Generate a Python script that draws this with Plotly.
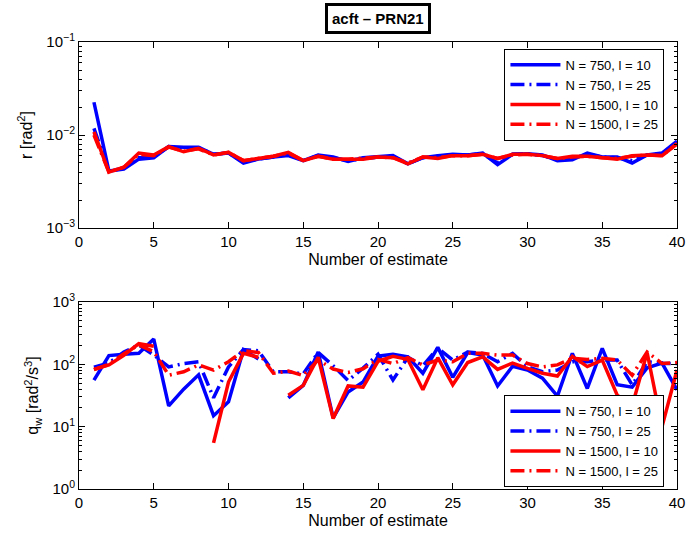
import plotly.graph_objects as go

x = list(range(1, 41))

# ---- top panel: r [rad^2] ----
r_750_10 = [0.0225, 0.0041, 0.0043, 0.0055, 0.0057, 0.0075, 0.0074, 0.0074, 0.0062, 0.0064,
            0.0050, 0.0055, 0.0058, 0.0060, 0.0053, 0.0061, 0.0058, 0.0052, 0.0057, 0.0058,
            0.0060, 0.0049, 0.0057, 0.0060, 0.0062, 0.0061, 0.0064, 0.0048, 0.0062, 0.0063,
            0.0061, 0.0053, 0.0054, 0.0064, 0.0058, 0.0058, 0.0050, 0.0061, 0.0064, 0.0086]
r_750_25 = [0.0118, 0.0041, 0.0044, 0.0057, 0.0058, 0.0075, 0.0072, 0.0073, 0.0062, 0.0064,
            0.0051, 0.0055, 0.0058, 0.0062, 0.0053, 0.0060, 0.0057, 0.0053, 0.0056, 0.0058,
            0.0059, 0.0049, 0.0057, 0.0059, 0.0061, 0.0061, 0.0063, 0.0050, 0.0062, 0.0063,
            0.0060, 0.0054, 0.0056, 0.0062, 0.0058, 0.0057, 0.0053, 0.0061, 0.0063, 0.0084]
r_1500_10 = [0.0108, 0.0040, 0.0045, 0.0064, 0.0061, 0.0075, 0.0066, 0.0072, 0.0061, 0.0065,
             0.0053, 0.0056, 0.0059, 0.0065, 0.0053, 0.0059, 0.0055, 0.0055, 0.0055, 0.0058,
             0.0057, 0.0049, 0.0058, 0.0056, 0.0060, 0.0060, 0.0062, 0.0056, 0.0062, 0.0062,
             0.0060, 0.0056, 0.0059, 0.0059, 0.0057, 0.0055, 0.0060, 0.0061, 0.0060, 0.0080]
r_1500_25 = [0.0100, 0.0040, 0.0045, 0.0062, 0.0060, 0.0074, 0.0067, 0.0071, 0.0061, 0.0065,
             0.0053, 0.0056, 0.0059, 0.0064, 0.0053, 0.0059, 0.0055, 0.0055, 0.0056, 0.0058,
             0.0057, 0.0050, 0.0058, 0.0057, 0.0060, 0.0060, 0.0062, 0.0056, 0.0061, 0.0062,
             0.0060, 0.0056, 0.0058, 0.0059, 0.0057, 0.0056, 0.0059, 0.0061, 0.0060, 0.0081]

# ---- bottom panel: q_w [rad^2/s^3] ----
q_750_10 = [56, 138, 145, 150, 255, 21.5, 40, 68, 15, 25,
            172, 122, None, 29, 46, 158, 13.8, 36, 52, 135,
            145, 132, 72, 187, 62, 155, 141, 45, 93, 81,
            60, 31, 150, 41, 180, 47, 43, 88, 105, 39]
q_750_25 = [90, 105, 158, 205, 141, 91, 103, 110, 29, 91,
            172, 165, 76, 76, 70, 155, 95, 55, 87, 145,
            56, 130, 95, 182, 117, 158, 150, 110, 150, 91,
            76, 81, 110, 110, 117, 117, 47, 110, 103, 103]
q_1500_10 = [83, 98, 140, 215, 195, None, None, None, 5.5, 52,
             150, 130, None, 32, 46, 130, 13.5, 45, 43, 112,
             135, 120, 39, 128, 47, 107, 132, 83, 105, 86,
             72, 65, 134, 92, 117, 32, 21.5, 155, 10, 81]
q_1500_25 = [82, 100, 148, 205, 160, 67, 76, 98, 81, 110,
             165, 155, 72, 78, 66, 118, 84, 74, 85, 120,
             103, 128, 98, 117, 110, 150, 150, 141, 141, 103,
             91, 98, 125, 120, 125, 117, 67, 158, 103, 107]

names = ["N = 750, l = 10", "N = 750, l = 25", "N = 1500, l = 10", "N = 1500, l = 25"]
colors = ["#0000FF", "#0000FF", "#FF0000", "#FF0000"]
DASHDOT = "14px,5px,2px,5px"
dashes = ["solid", DASHDOT, "solid", DASHDOT]

FONT = "Liberation Sans, Arial, Helvetica, sans-serif"
fig = go.Figure()

for ys, nm, c, d in zip([r_750_10, r_750_25, r_1500_10, r_1500_25], names, colors, dashes):
    fig.add_trace(go.Scatter(x=x, y=ys, mode="lines", name=nm,
                             line=dict(color=c, width=3.5, dash=d),
                             xaxis="x", yaxis="y", legend="legend"))
for ys, nm, c, d in zip([q_750_10, q_750_25, q_1500_10, q_1500_25], names, colors, dashes):
    fig.add_trace(go.Scatter(x=x, y=ys, mode="lines", name=nm,
                             line=dict(color=c, width=3.5, dash=d),
                             xaxis="x2", yaxis="y2", legend="legend2"))


def minor_vals(lo, hi):
    out = []
    for e in range(lo, hi):
        for k in range(2, 10):
            out.append(k * 10 ** e)
    return out


common_x = dict(range=[0, 40], tickmode="array", tickvals=[0, 5, 10, 15, 20, 25, 30, 35, 40],
                ticks="inside", ticklen=6, tickcolor="black", showline=True, linecolor="black",
                linewidth=1, mirror="ticks", showgrid=False, zeroline=False,
                tickfont=dict(family=FONT, size=15, color="black"),
                title=dict(text="Number of estimate", font=dict(family=FONT, size=16, color="black"),
                           standoff=4))
common_y = dict(type="log", ticks="inside", ticklen=6, tickcolor="black", showline=True,
                linecolor="black", linewidth=1, mirror="ticks", showgrid=False, zeroline=False,
                tickfont=dict(family=FONT, size=15, color="black"))

leg_common = dict(bgcolor="white", bordercolor="black", borderwidth=1,
                  font=dict(family=FONT, size=13, color="black"), itemwidth=50,
                  tracegroupgap=0)

fig.update_layout(
    width=694, height=536,
    paper_bgcolor="white", plot_bgcolor="white",
    margin=dict(l=79, r=9, t=42, b=47),
    font=dict(family=FONT, color="black"),
    xaxis=dict(domain=[0, 1], anchor="y", **common_x),
    yaxis=dict(domain=[0.5839, 1], anchor="x", range=[-3, -1],
               tickmode="array", tickvals=[0.001, 0.01, 0.1],
               ticktext=["10<sup>−3</sup>", "10<sup>−2</sup>", "10<sup>−1</sup>"],
               minor=dict(ticks="inside", ticklen=3, tickcolor="black", tickmode="array",
                          tickvals=minor_vals(-3, -1)),
               title=dict(text="r [rad<sup>2</sup>]", font=dict(family=FONT, size=16, color="black"),
                          standoff=9),
               **common_y),
    xaxis2=dict(domain=[0, 1], anchor="y2", **common_x),
    yaxis2=dict(domain=[0, 0.4183], anchor="x2", range=[0, 3],
                tickmode="array", tickvals=[1, 10, 100, 1000],
                ticktext=["10<sup>0</sup>", "10<sup>1</sup>", "10<sup>2</sup>", "10<sup>3</sup>"],
                minor=dict(ticks="inside", ticklen=3, tickcolor="black", tickmode="array",
                           tickvals=minor_vals(0, 3)),
                title=dict(text="q<sub>w</sub> [rad<sup>2</sup>/s<sup>3</sup>]",
                           font=dict(family=FONT, size=16, color="black"), standoff=9),
                **common_y),
    legend=dict(x=0.979, xanchor="right", y=0.985, yanchor="top", **leg_common),
    legend2=dict(x=0.979, xanchor="right", y=0.004, yanchor="bottom", **leg_common),
    showlegend=True,
    annotations=[dict(text="<b>acft – PRN21</b>", xref="paper", yref="paper",
                      x=0.5, y=1, yshift=8, xanchor="center", yanchor="bottom",
                      showarrow=False, font=dict(family=FONT, size=15, color="black"),
                      bordercolor="black", borderwidth=3, borderpad=4, bgcolor="white")],
)

fig.write_html("out.html")
